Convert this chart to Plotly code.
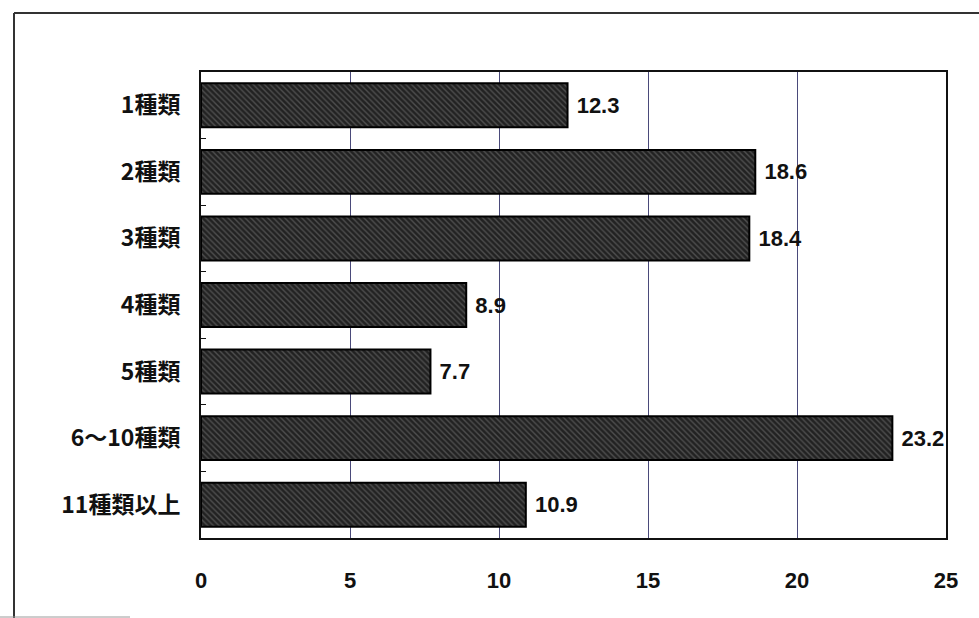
import plotly.graph_objects as go

# Number of supplement types taken (%)
categories = ["1種類", "2種類", "3種類", "4種類", "5種類", "6～10種類", "11種類以上"]
values = [12.3, 18.6, 18.4, 8.9, 7.7, 23.2, 10.9]
x_ticks = [0, 5, 10, 15, 20, 25]

W, H = 979, 618
L, R, T, B = 201, 33, 72, 80
plot_w = W - L - R
plot_h = H - T - B

NUM_FONT = "Liberation Sans, Arial"


def px_x(px):
    """Horizontal pixel position -> paper coordinate."""
    return (px - L) / plot_w


def px_y(px):
    """Vertical pixel position (from top) -> paper coordinate."""
    return (T + plot_h - px) / plot_h


fig = go.Figure(
    go.Bar(
        y=categories,
        x=values,
        orientation="h",
        width=0.66,
        marker=dict(
            color="#2e2e2e",
            line=dict(color="#000000", width=2),
            pattern=dict(shape="\\", fgcolor="#7c7c7c", bgcolor="#222222",
                         size=4, solidity=0.35),
        ),
        text=[f" {v:.1f}" for v in values],
        textposition="outside",
        textfont=dict(family=NUM_FONT, size=22, color="#111111", weight="bold"),
        cliponaxis=False,
        hoverinfo="skip",
    )
)

# Frame lines around the figure (left and top edges)
frame = dict(type="line", xref="paper", yref="paper",
             line=dict(color="#333333", width=2), layer="below")
fig.add_shape(x0=px_x(14), x1=px_x(14), y0=px_y(620), y1=px_y(13), **frame)
fig.add_shape(x0=px_x(14), x1=px_x(985), y0=px_y(13), y1=px_y(13), **frame)
fig.add_shape(x0=px_x(0), x1=px_x(130), y0=px_y(617), y1=px_y(617),
              type="line", xref="paper", yref="paper",
              line=dict(color="#9a9a9a", width=1), layer="below")

fig.update_layout(
    width=W, height=H,
    margin=dict(l=L, r=R, t=T, b=B),
    paper_bgcolor="white",
    plot_bgcolor="white",
    showlegend=False,
    bargap=0.34,
    xaxis=dict(
        range=[0, 25],
        tickvals=x_ticks,
        ticktext=[str(v) for v in x_ticks],
        showgrid=True,
        gridcolor="#4a4a7a",
        gridwidth=1,
        zeroline=False,
        showline=True,
        linecolor="#111111",
        linewidth=2,
        mirror=True,
        ticks="",
        ticklabelstandoff=22,
        tickfont=dict(family=NUM_FONT, size=22, color="#111111", weight="bold"),
    ),
    yaxis=dict(
        categoryorder="array",
        categoryarray=categories[::-1],
        autorange=True,
        showgrid=False,
        showline=True,
        linecolor="#111111",
        linewidth=2,
        mirror=True,
        ticks="inside",
        tickson="boundaries",
        ticklen=5,
        tickcolor="#111111",
        ticklabelstandoff=14,
        tickfont=dict(family="Noto Sans CJK JP", size=23, color="#111111",
                      weight="bold"),
    ),
)

fig.write_html("out.html")
